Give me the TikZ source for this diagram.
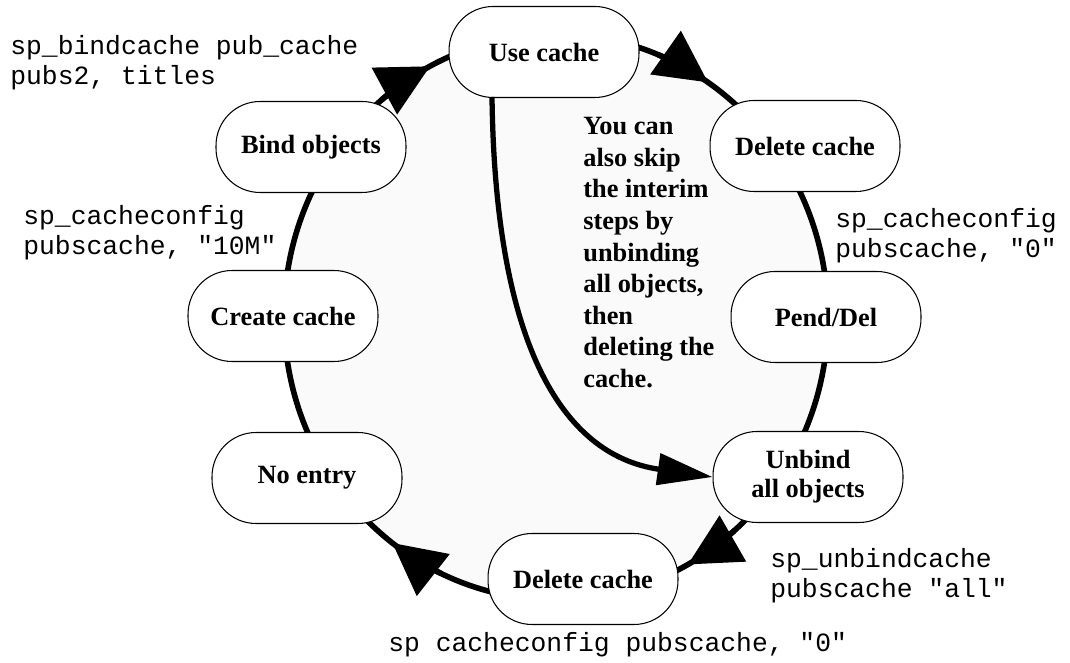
\documentclass[tikz,border=0pt]{standalone}
\usepackage{fontspec}
\setmainfont{Liberation Serif}
\setmonofont{Liberation Mono}
\usepackage{tikz}
\usetikzlibrary{positioning}
\usetikzlibrary{arrows.meta}
\usetikzlibrary{calc}

\begin{document}
\begin{tikzpicture}[x=0.02cm, y=0.02cm,
  stage/.style={draw, fill=white, line width=0.6pt, rounded corners=0.88cm,
    minimum width=3.8cm, minimum height=1.82cm, align=center,
    font=\fontsize{15}{16.5}\selectfont\bfseries},
  cmd/.style={anchor=north west, inner sep=0pt, align=left,
    font=\fontsize{15}{17}\selectfont\ttfamily},
  cyc/.style={line width=3.2pt, -{Triangle[length=1.04cm, width=1.04cm]}},
  skiparrow/.style={line width=3pt, -{Triangle[length=1.1cm, width=0.62cm]}}]
\useasboundingbox (0,0) rectangle (1070,662);

\coordinate (c) at (556,345);
\filldraw[fill=gray!4, line width=3.2pt] (c) ellipse [x radius=5.44cm, y radius=5.66cm];

\draw[cyc] ($(c)+(130:5.44cm and 5.66cm)$) arc[start angle=130, end angle=117.6, x radius=5.44cm, y radius=5.66cm];
\draw[cyc] ($(c)+(68:5.44cm and 5.66cm)$) arc[start angle=68, end angle=56, x radius=5.44cm, y radius=5.66cm];
\draw[cyc] ($(c)+(-49:5.44cm and 5.66cm)$) arc[start angle=-49, end angle=-61, x radius=5.44cm, y radius=5.66cm];
\draw[cyc] ($(c)+(-115:5.44cm and 5.66cm)$) arc[start angle=-115, end angle=-127, x radius=5.44cm, y radius=5.66cm];

\node[stage] (use) at (544,610) {Use cache};
\node[stage] (del) at (805,516) {Delete cache};
\node[stage] (pend) at (826,345) {Pend/Del};
\node[stage] (unbind) at (808,185) {Unbind\\all objects};
\node[stage] (drop) at (583,83) {Delete cache};
\node[stage] (noentry) at (307,184) {No entry};
\node[stage] (create) at (283,346) {Create cache};
\node[stage] (bind) at (311,515) {Bind objects};

\coordinate (skipstart) at (492,565);
\draw[skiparrow] (skipstart) .. controls (495,322) and (560,207) .. (unbind.west);

\node[anchor=north west, inner sep=0pt, align=left, font=\fontsize{15}{18}\selectfont\bfseries] (note) at (583,545)
  {You can\\also skip\\the interim\\steps by\\unbinding\\all objects,\\then\\deleting the\\cache.};

\node[cmd] (bindcmd) at (10,627) {sp\_bindcache pub\_cache\\pubs2, titles};
\node[cmd] (sizecmd) at (23,457) {sp\_cacheconfig\\pubscache, "10M"};
\node[cmd] (zerocmd) at (835,454) {sp\_cacheconfig\\pubscache, "0"};
\node[cmd] (unbindcmd) at (770,114) {sp\_unbindcache\\pubscache "all"};
\node[cmd] (dropcmd) at (388,30) {sp cacheconfig pubscache, "0"};
\end{tikzpicture}
\end{document}
